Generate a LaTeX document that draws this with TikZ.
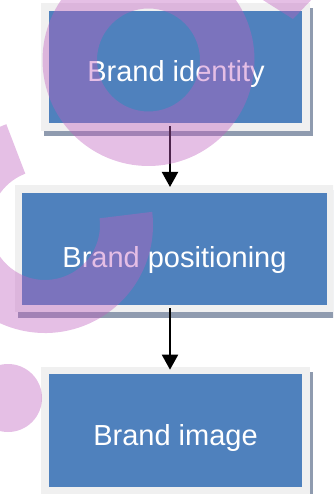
\documentclass[tikz,border=0pt]{standalone}
\usepackage{fontspec}
\setmainfont{Liberation Sans}
\usetikzlibrary{arrows.meta,calc}
\definecolor{boxblue}{RGB}{79,129,189}
\definecolor{framegray}{RGB}{240,240,240}
\definecolor{shadowgray}{RGB}{143,155,175}
\definecolor{orchid}{RGB}{191,94,191}
\tikzset{
  panel/.style={rectangle, inner sep=0pt, outer sep=0pt, anchor=north west},
  shadowbox/.style={panel, fill=shadowgray},
  framebox/.style={panel, fill=framegray},
  bluebox/.style={panel, fill=boxblue},
  lbl/.style={anchor=base, inner sep=0pt, text=white, font=\fontsize{29}{34}\selectfont},
  flow/.style={line width=2pt, -{Triangle[length=15pt,width=16pt]}},
  stain/.style={fill=orchid, fill opacity=0.4, even odd rule},
}
\begin{document}
\begin{tikzpicture}[x=1pt,y=-1pt]
\useasboundingbox (0,0) rectangle (333,494);
\clip (0,0) rectangle (333,494);

% first step
\node[shadowbox, minimum width=269.5pt, minimum height=128pt] (s1) at (43.5,8) {};
\node[framebox, minimum width=269pt, minimum height=128pt] (f1) at (41,3) {};
\node[bluebox, minimum width=253pt, minimum height=112pt] (b1) at (49,11) {};
\node[lbl] (t1) at (176,81.7) {Brand identity};

% second step
\node[shadowbox, minimum width=320pt, minimum height=128pt] (s2) at (17.5,190) {};
\node[framebox, minimum width=320pt, minimum height=126.5pt] (f2) at (15,185) {};
\node[bluebox, minimum width=304.7pt, minimum height=112.3pt] (b2) at (22.3,192.7) {};
\node[lbl] (t2) at (174.5,267.7) {Brand positioning};

% third step
\node[shadowbox, minimum width=269.5pt, minimum height=130pt] (s3) at (43.5,372) {};
\node[framebox, minimum width=269pt, minimum height=130pt] (f3) at (41,366.7) {};
\node[bluebox, minimum width=253pt, minimum height=112.4pt] (b3) at (49,374.3) {};
\node[lbl] (t3) at (175.5,445) {Brand image};

% connectors
\coordinate (axis) at (170,0);
\draw[flow] ($(b1.south -| axis)+(0,3.5)$) -- ($(f2.north -| axis)+(0,2)$);
\draw[flow] ($(b2.south -| axis)+(0,3)$) -- ($(f3.north -| axis)+(0,3)$);

% translucent decoration laid over everything
\fill[stain] (148.5,60) circle[radius=106] (148.5,60) circle[radius=51.5];
\fill[stain] ($(45,225)+(249:108)$) arc[start angle=249, end angle=-7, radius=108]
  -- ($(45,225)+(-7:55)$) arc[start angle=-7, end angle=249, radius=55] -- cycle;
\fill[stain] (255,-5) -- (293,19) -- (316,-5) -- cycle;
\fill[stain] (8,398) circle[radius=34];
\end{tikzpicture}
\end{document}
